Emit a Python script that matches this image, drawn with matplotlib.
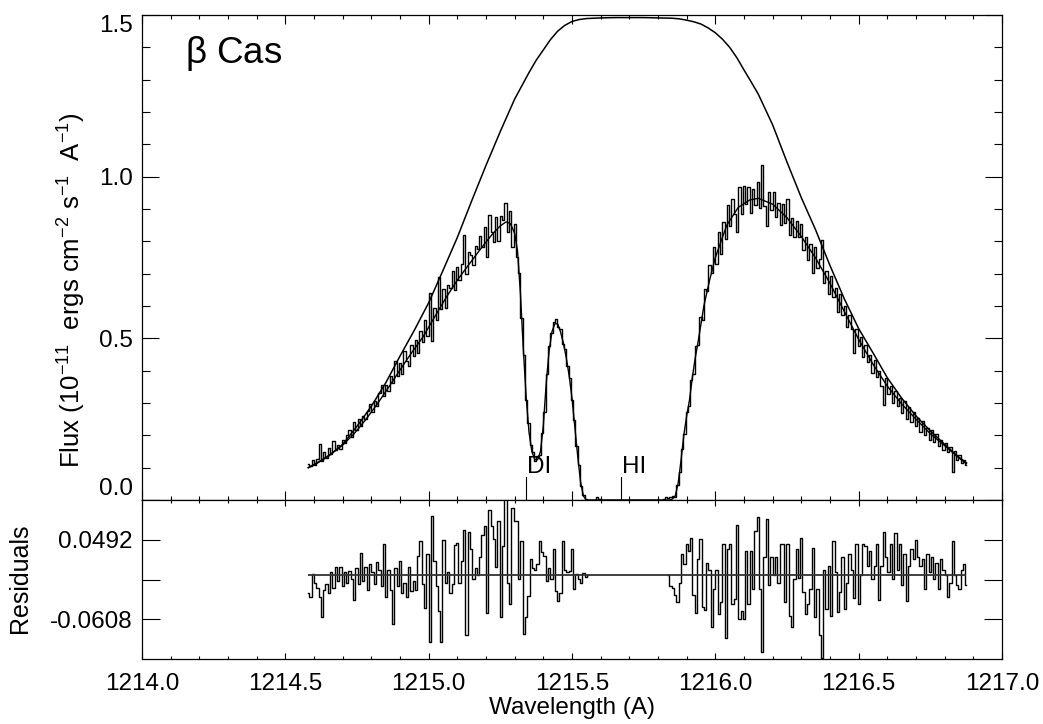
import numpy as np
import matplotlib
matplotlib.use('Agg')
import matplotlib.pyplot as plt
from matplotlib.ticker import MultipleLocator, FixedLocator, FixedFormatter, FormatStrFormatter

plt.rcParams['font.family'] = ['Liberation Sans', 'DejaVu Sans']
plt.rcParams['mathtext.fontset'] = 'custom'
plt.rcParams['mathtext.rm'] = 'Liberation Sans'
plt.rcParams['mathtext.it'] = 'Liberation Sans'
plt.rcParams['mathtext.bf'] = 'Liberation Sans'

# ---------------- data ----------------
WAVE_START = 1214.580   # first pixel (A)
WAVE_STEP = 0.008       # pixel width (A)
N_PIX = 288

# observed flux (1e-11 erg cm-2 s-1 A-1), blue wing / core / red wing
flux_blue = [.110,.104,.124,.108,.127,.172,.122,.147,.131,.161,
             .141,.181,.156,.171,.159,.187,.175,.200,.216,.196,
             .242,.216,.249,.228,.261,.250,.274,.298,.272,.306,
             .292,.330,.356,.321,.357,.337,.382,.363,.429,.384,
             .425,.390,.460,.430,.415,.480,.445,.495,.455,.524,
             .489,.556,.508,.640,.493,.595,.557,.690,.591,.653,
             .595,.666,.657,.709,.650,.720,.680,.729,.820,.698,
             .768,.758,.727,.787,.776,.815,.784,.843,.752,.881,
             .830,.798,.875,.802,.879,.865,.919,.829,.895,.782,
             .855,.751,.702,.562,.450,.310,.237,.169,.148,.120,
             .135,.140,.208,.272,.390,.475,.518,.550,.560,.535,
             .530,.482,.466,.413,.376,.310,.248,.166,.107,.042,
             .014,.002,.000]
flux_core = [.000,.001,.000,.010,.002,.000,.000,.001,.000,.000,
             .000,.000,.001,.000,.000,.000,.000,.000,.000,.001,
             .000,.000,.000,.000,.000,.000,.000,.000,.000,.001,
             .000,.000,.004,.008]
flux_red = [.005,.010,.012,.008,.047,.087,.158,.204,.272,.290,
            .372,.389,.477,.480,.565,.558,.654,.646,.727,.702,
            .783,.730,.830,.760,.859,.807,.913,.846,.930,.883,
            .828,.969,.885,.970,.914,.967,.889,.961,.912,.983,
            .903,1.036,.909,.846,.953,.898,.953,.876,.919,.852,
            .915,.858,.930,.821,.872,.812,.863,.814,.855,.774,
            .814,.743,.792,.702,.781,.718,.746,.803,.671,.708,
            .636,.693,.629,.655,.581,.637,.573,.599,.536,.572,
            .528,.454,.529,.477,.505,.442,.480,.428,.450,.393,
            .432,.381,.400,.354,.293,.377,.327,.353,.300,.336,
            .292,.314,.270,.307,.250,.287,.240,.273,.230,.253,
            .211,.243,.201,.224,.187,.216,.180,.204,.168,.187,
            .156,.177,.149,.163,.087,.151,.125,.138,.114,.125,
            .107]

# residuals of the fit (blue-wing pixels and red-wing pixels)
resid_blue = [-.025,-.030,.002,-.010,-.018,-.030,-.058,-.020,-.012,-.025,
              .005,-.018,.012,-.008,.011,-.015,.004,-.010,.006,-.005,
              -.034,.010,-.012,.031,-.008,.012,-.020,.015,.005,-.012,
              .018,.008,-.015,.043,-.030,.008,-.020,-.067,.010,-.015,
              .020,-.025,-.010,-.030,.012,-.022,-.008,-.020,.027,.047,
              -.012,-.045,.030,-.092,.082,.020,-.015,-.050,-.092,.049,
              -.010,.005,-.025,-.012,.042,.045,-.010,.020,.063,-.083,
              .060,.036,-.005,.010,.000,.025,.056,.068,-.052,.090,
              .068,.050,.012,.075,-.057,.040,.105,-.010,-.040,.093,
              .075,.075,-.005,.047,-.081,-.058,-.029,.022,.010,.008,
              .015,.047,.032,.027,-.008,.010,-.005,.036,-.022,-.035,
              -.024,.047,.008,.004,.006,.036,-.019,.002,-.005,-.010,
              .003,-.003,.000]
resid_red = [.000,-.015,-.018,-.027,-.037,-.010,.029,.015,.044,.033,
             .052,-.027,-.052,.022,.050,-.044,-.048,.017,.008,-.072,
             -.019,.008,-.054,-.037,.044,-.087,.036,.044,-.040,-.033,
             .070,-.060,-.050,-.060,.033,-.040,.033,-.019,.061,.080,
             -.019,-.106,.026,.078,-.014,.026,.000,.026,-.010,.044,
             .044,-.037,.044,-.056,-.072,-.005,.036,-.004,.052,-.023,
             -.053,-.040,-.019,.038,-.057,-.019,-.083,-.115,.008,-.046,
             .013,-.056,.047,.004,-.051,-.023,.026,-.047,-.010,.029,
             .008,-.032,.044,-.040,.000,.044,.040,.013,.033,-.005,
             .013,.044,-.034,.013,.060,.026,.004,.044,-.005,.058,
             .008,.044,-.014,.030,-.036,.013,.036,.022,.049,.026,
             .013,.022,-.019,.030,.004,.026,-.005,.017,-.019,.022,
             .008,.000,-.030,-.010,.048,.000,-.014,-.019,.008,.015,
             -.014]

# best-fit model profile
fit_wave = [1214.58,1214.62,1214.66,1214.70,1214.74,1214.78,1214.82,1214.86,1214.90,1214.94,
            1214.98,1215.02,1215.06,1215.10,1215.14,1215.18,1215.22,1215.25,1215.27,1215.285,
            1215.30,1215.31,1215.32,1215.33,1215.34,1215.35,1215.36,1215.37,1215.38,1215.39,
            1215.40,1215.41,1215.42,1215.43,1215.44,1215.45,1215.46,1215.47,1215.48,1215.49,
            1215.50,1215.51,1215.52,1215.53,1215.54,1215.55,1215.84,1215.85,1215.86,1215.87,
            1215.88,1215.89,1215.90,1215.91,1215.92,1215.93,1215.94,1215.95,1215.96,1215.98,
            1216.00,1216.02,1216.04,1216.08,1216.12,1216.15,1216.20,1216.25,1216.30,1216.35,
            1216.40,1216.45,1216.50,1216.55,1216.60,1216.65,1216.70,1216.75,1216.80,1216.85,
            1216.876]
fit_flux = [.100,.120,.143,.170,.205,.248,.296,.348,.402,.455,
            .504,.565,.625,.680,.728,.775,.820,.848,.860,.855,
            .825,.770,.640,.470,.320,.210,.150,.125,.125,.150,
            .230,.360,.460,.520,.545,.545,.520,.485,.440,.385,
            .315,.225,.135,.055,.012,.000,.000,.003,.012,.050,
            .120,.200,.260,.310,.380,.440,.490,.545,.600,.680,
            .750,.800,.850,.905,.928,.933,.915,.873,.815,.748,
            .670,.583,.497,.420,.352,.297,.250,.205,.168,.130,
            .112]

# intrinsic (unabsorbed) stellar Lyman-alpha profile
intr_wave = [1214.58,1214.60,1214.65,1214.70,1214.75,1214.80,1214.85,1214.90,1214.95,1215.00,
             1215.05,1215.10,1215.15,1215.20,1215.25,1215.30,1215.35,1215.375,1215.40,1215.425,
             1215.45,1215.475,1215.50,1215.525,1215.55,1215.575,1215.60,1215.65,1215.70,1215.75,
             1215.80,1215.85,1215.875,1215.90,1215.925,1215.95,1215.975,1216.00,1216.025,1216.05,
             1216.075,1216.10,1216.125,1216.15,1216.20,1216.25,1216.30,1216.35,1216.40,1216.45,
             1216.50,1216.55,1216.60,1216.65,1216.70,1216.75,1216.80,1216.85,1216.876]
intr_flux = [.100,.108,.135,.172,.228,.290,.362,.445,.525,.610,
             .710,.812,.925,1.035,1.140,1.240,1.322,1.360,1.392,1.424,
             1.450,1.468,1.480,1.486,1.489,1.490,1.491,1.492,1.492,1.492,
             1.491,1.490,1.488,1.484,1.479,1.472,1.460,1.445,1.425,1.400,
             1.368,1.330,1.293,1.255,1.160,1.045,.935,.835,.725,.622,
             .530,.455,.378,.315,.260,.214,.172,.132,.115]

# absorption line markers
line_names = ['DI', 'HI']
line_waves = [1215.339, 1215.671]

star_name = r'$\beta$ Cas'
main_yticks = [0.0, 0.5, 1.0, 1.5]
resid_ylim = [-0.1158, 0.1042]
resid_yticks = [-0.0608, -0.0058, 0.0492]
resid_yticklabels = ['-0.0608', '', '0.0492']

# ---------------- plot ----------------
flux = np.array(flux_blue + flux_core + flux_red)
wave = WAVE_START + WAVE_STEP * np.arange(N_PIX)
n_blue = len(resid_blue)
n_red = len(resid_red)

W, H = 1043, 724
fig = plt.figure(figsize=(W / 100, H / 100), dpi=100)
L, R = 142, 1002
ax1 = fig.add_axes([L / W, 1 - 500 / H, (R - L) / W, (500 - 15) / H])
ax2 = fig.add_axes([L / W, 1 - 659 / H, (R - L) / W, (659 - 500) / H])

lwd = 1.0
ax1.step(wave, flux, where='mid', color='black', lw=lwd)
ax1.plot(fit_wave, fit_flux, color='black', lw=1.0)
ax1.plot(intr_wave, intr_flux, color='black', lw=1.1)

for name, lw0 in zip(line_names, line_waves):
    ax1.plot([lw0, lw0], [0.0, 0.071], color='black', lw=0.8)
    ax1.text(lw0 + 0.003, 0.068, name, fontsize=17.5, ha='left', va='bottom')

ax1.text(0.05, 0.901, star_name, transform=ax1.transAxes, fontsize=26.5,
         ha='left', va='baseline')

ax1.set_xlim(1214.0, 1217.0)
ax1.set_ylim(0.0, 1.5)
ax1.xaxis.set_major_locator(MultipleLocator(0.5))
ax1.xaxis.set_minor_locator(MultipleLocator(0.1))
ax1.yaxis.set_major_locator(FixedLocator(main_yticks))
ax1.yaxis.set_minor_locator(MultipleLocator(0.1))
ax1.yaxis.set_major_formatter(FormatStrFormatter('%.1f'))
ax1.tick_params(axis='x', which='both', direction='in', top=True, bottom=True,
                labelbottom=False, width=0.8)
ax1.tick_params(axis='x', which='major', length=6.5)
ax1.tick_params(axis='x', which='minor', length=3.2)
ax1.tick_params(axis='y', which='both', direction='in', left=True, right=True,
                labelsize=17.5, pad=6.5, width=0.8)
ax1.tick_params(axis='y', which='major', length=12.5)
ax1.tick_params(axis='y', which='minor', length=6)

# residual panel
ax2.step(wave[:n_blue], resid_blue, where='mid', color='black', lw=lwd)
ax2.step(wave[N_PIX - n_red:], resid_red, where='mid', color='black', lw=lwd)
ax2.hlines(0.0, wave[0], wave[-1], color='#333333', lw=1.3)
ax2.set_xlim(1214.0, 1217.0)
ax2.set_ylim(*resid_ylim)
ax2.xaxis.set_major_locator(MultipleLocator(0.5))
ax2.xaxis.set_minor_locator(MultipleLocator(0.1))
ax2.xaxis.set_major_formatter(FormatStrFormatter('%.1f'))
ax2.yaxis.set_major_locator(FixedLocator(resid_yticks))
ax2.yaxis.set_major_formatter(FixedFormatter(resid_yticklabels))
ax2.tick_params(axis='x', which='both', direction='in', top=True, bottom=True,
                labelsize=17.5, pad=10, width=0.8)
ax2.tick_params(axis='x', which='major', length=4)
ax2.tick_params(axis='x', which='minor', length=2.2)
ax2.tick_params(axis='y', which='major', direction='in', left=True, right=True,
                labelsize=17.5, pad=6.5, length=13, width=0.8)

for ax in (ax1, ax2):
    for s in ax.spines.values():
        s.set_linewidth(0.9)

# first/last main y labels kept inside the panel, as in the original
yt = ax1.yaxis.get_major_ticks()
yt[0].label1.set_verticalalignment('bottom')
yt[-1].label1.set_verticalalignment('top')

fig.text(72 / W, 1 - 290 / H,
         r'Flux (10$^{-11}$  ergs cm$^{-2}$ s$^{-1}$  A$^{-1}$)',
         rotation=90, ha='center', va='center', fontsize=18.5)
fig.text(20 / W, 1 - 578 / H, 'Residuals', rotation=90, ha='center',
         va='center', fontsize=18)
fig.text(572 / W, 1 - 708 / H, 'Wavelength (A)', ha='center', va='center',
         fontsize=17.5)

fig.savefig('out.png', dpi=100)
